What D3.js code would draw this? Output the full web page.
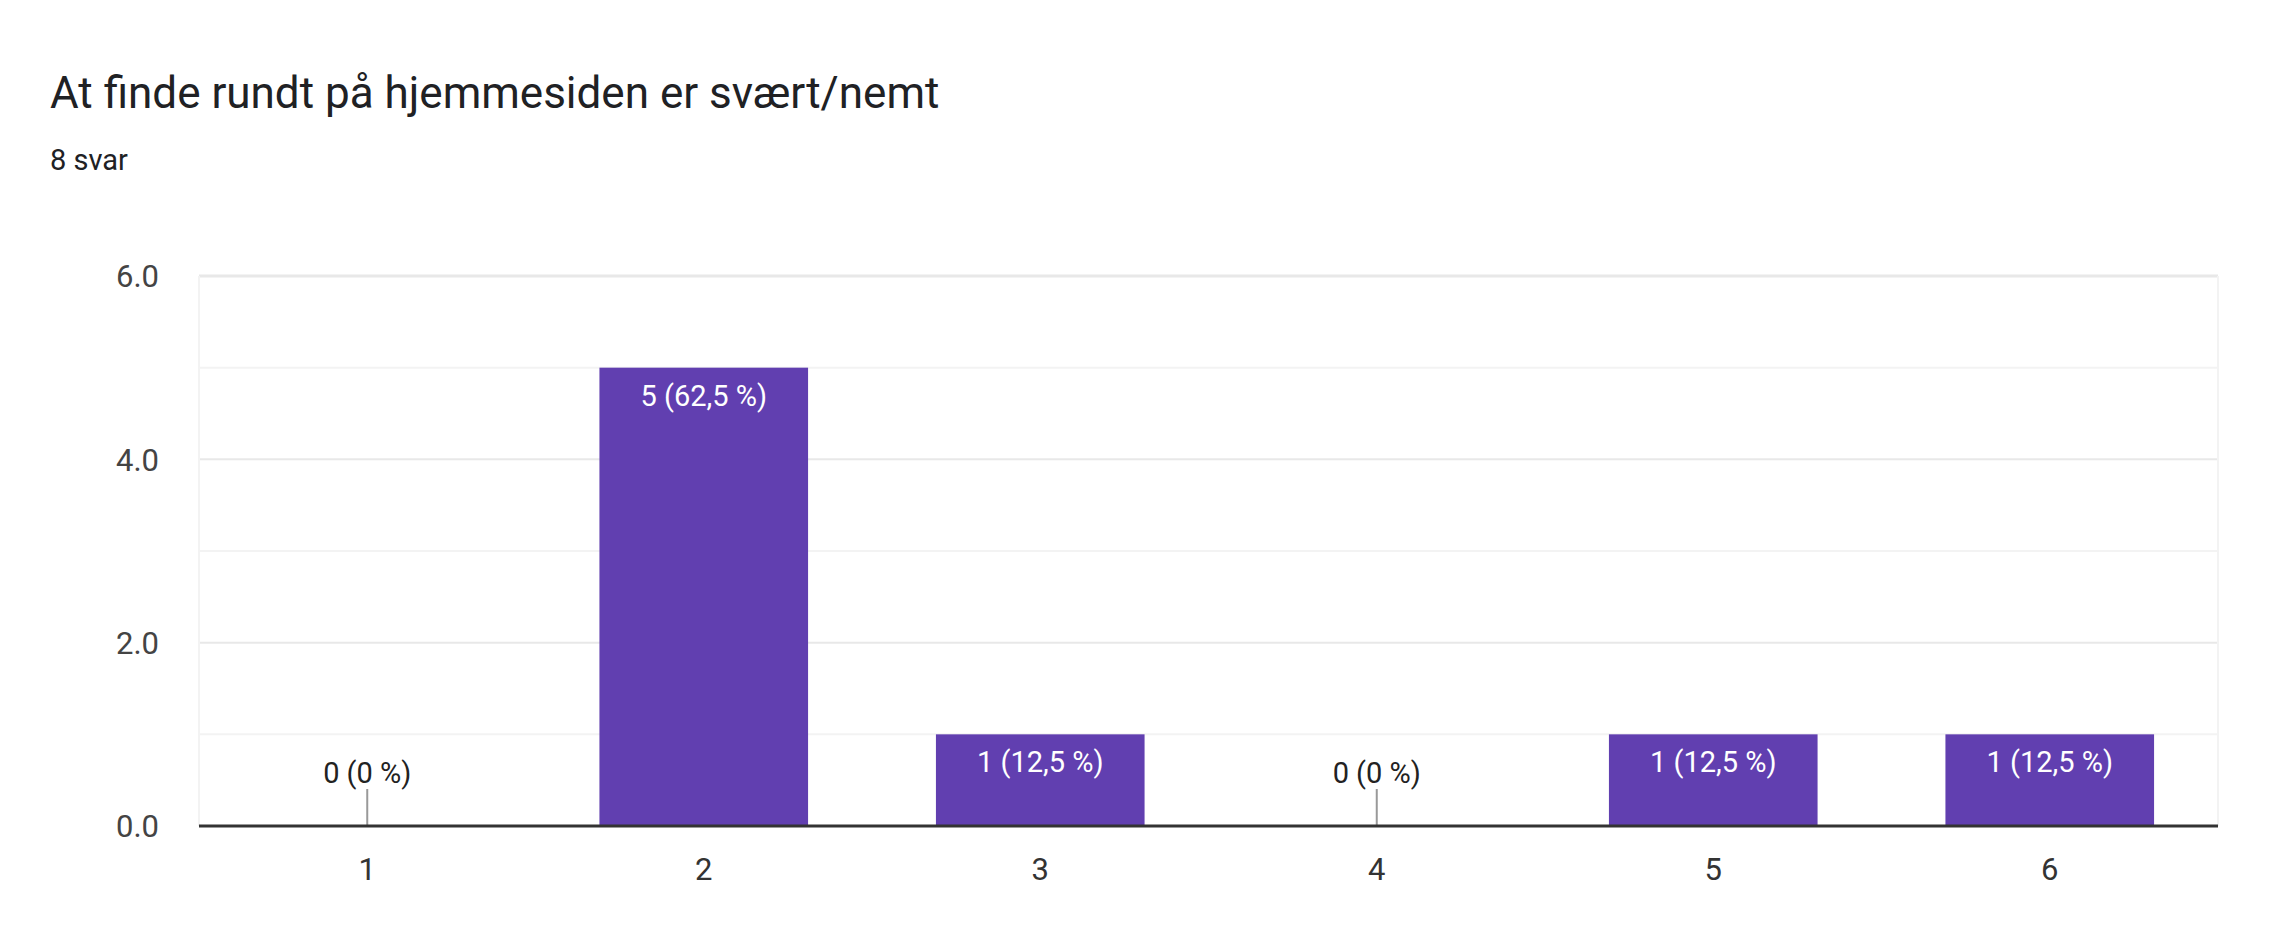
<!DOCTYPE html>
<html><head><meta charset="utf-8">
<script src="https://cdn.jsdelivr.net/npm/d3@7"></script>
<style>body{margin:0;background:#fff}text{font-family:Roboto,Arial,sans-serif}</style>
</head><body>
<svg id="c" width="2286" height="944"></svg>
<script>
const categories = ['1', '2', '3', '4', '5', '6'];
const counts = [0, 5, 1, 0, 1, 1];
const labels = ['0 (0 %)', '5 (62,5 %)', '1 (12,5 %)', '0 (0 %)', '1 (12,5 %)', '1 (12,5 %)'];
const majorTicks = [0, 2, 4, 6];
const minorTicks = [1, 3, 5];

const svg = d3.select('#c');
const L = 199, R = 2218, T = 276, B = 826;
const x = d3.scaleBand().domain(categories).range([L, R]).paddingInner(0.38).paddingOuter(0.19);
const y = d3.scaleLinear().domain([0, 6]).range([B, T]);

svg.append('text').attr('x', 50).attr('y', 108).attr('font-size', 44).attr('fill', '#202124')
  .text('At finde rundt på hjemmesiden er svært/nemt');
svg.append('text').attr('x', 50).attr('y', 170).attr('font-size', 29).attr('fill', '#202124').text('8 svar');

svg.append('g').selectAll('line').data(minorTicks).join('line')
  .attr('x1', L).attr('x2', R).attr('y1', d => y(d)).attr('y2', d => y(d))
  .attr('stroke', '#f3f3f3').attr('stroke-width', 2);
svg.append('g').selectAll('line').data(majorTicks.filter(d => d > 0)).join('line')
  .attr('x1', L).attr('x2', R).attr('y1', d => y(d)).attr('y2', d => y(d))
  .attr('stroke', '#e8e8e8').attr('stroke-width', d => d === 6 ? 3 : 2);
svg.append('line').attr('x1', L).attr('x2', L).attr('y1', T).attr('y2', B).attr('stroke', '#f3f3f3').attr('stroke-width', 2);
svg.append('line').attr('x1', R).attr('x2', R).attr('y1', T).attr('y2', B).attr('stroke', '#f3f3f3').attr('stroke-width', 2);

const yAxis = svg.append('g').attr('transform', `translate(${L - 40},0)`)
  .call(d3.axisLeft(y).tickValues(majorTicks).tickSize(0).tickPadding(0));
yAxis.select('.domain').remove();
yAxis.selectAll('text').attr('font-size', 31).attr('fill', '#444').attr('dy', '0.35em');

const bars = svg.append('g').selectAll('g').data(categories).join('g');
bars.append('rect')
  .attr('x', d => x(d)).attr('width', x.bandwidth())
  .attr('y', (d, i) => y(counts[i])).attr('height', (d, i) => B - y(counts[i]))
  .attr('fill', '#613fb0');
bars.filter((d, i) => counts[i] === 0).append('line')
  .attr('x1', d => x(d) + x.bandwidth() / 2).attr('x2', d => x(d) + x.bandwidth() / 2)
  .attr('y1', B - 37).attr('y2', B).attr('stroke', '#999').attr('stroke-width', 2);
bars.append('text')
  .attr('x', d => x(d) + x.bandwidth() / 2)
  .attr('y', (d, i) => counts[i] === 0 ? B - 43 : y(counts[i]) + 38)
  .attr('text-anchor', 'middle').attr('font-size', 29)
  .attr('fill', (d, i) => counts[i] === 0 ? '#222' : '#fff')
  .text((d, i) => labels[i]);

svg.append('line').attr('x1', L).attr('x2', R).attr('y1', B).attr('y2', B).attr('stroke', '#333').attr('stroke-width', 3);

const xAxis = svg.append('g').attr('transform', `translate(0,${B})`)
  .call(d3.axisBottom(x).tickSize(0).tickPadding(0));
xAxis.select('.domain').remove();
xAxis.selectAll('text').attr('font-size', 31).attr('fill', '#333').attr('dy', 0).attr('y', 54);
</script>
</body></html>
